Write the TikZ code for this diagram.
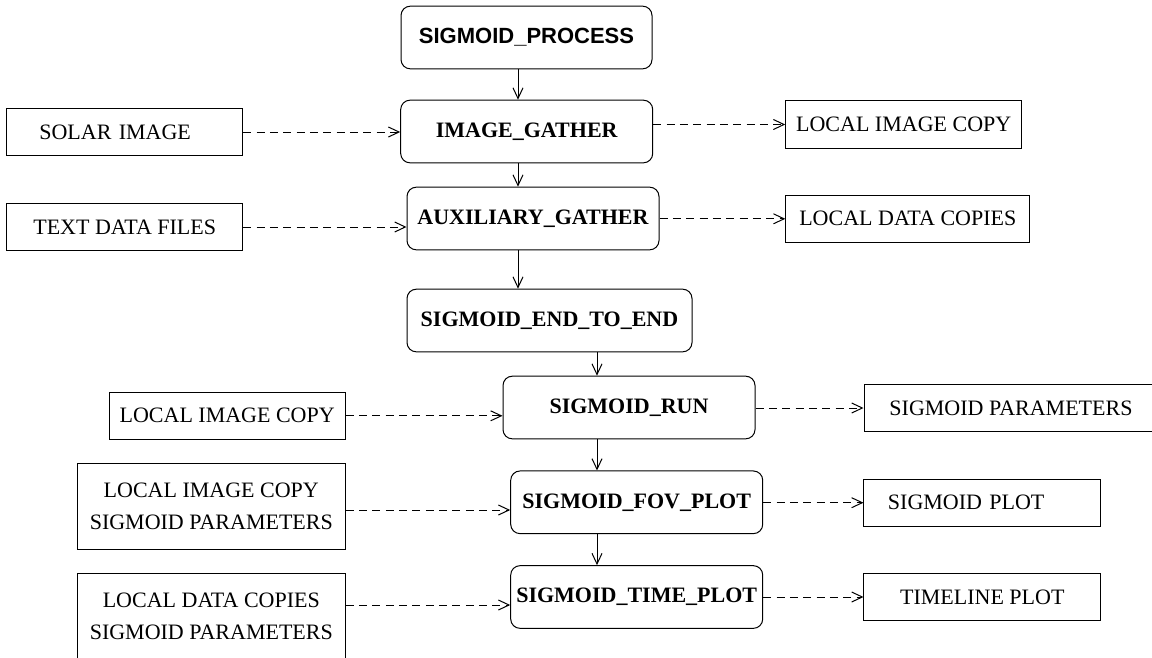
\documentclass[tikz,border=0pt]{standalone}
\usepackage{fontspec}
\setmainfont{Liberation Serif}
\newfontfamily\headfont{Liberation Sans}
\usetikzlibrary{arrows.meta}
\tikzstyle{process}=[draw, rounded corners=7pt, line width=0.75pt, minimum width=189pt, minimum height=47pt, font=\fontsize{16.5}{19}\selectfont\bfseries]
\tikzstyle{store}=[draw, line width=0.75pt, minimum width=177pt, minimum height=35.5pt, align=center, font=\fontsize{16.5}{23.7}\selectfont]
\tikzset{flow/.style={-{Straight Barb[length=8pt,width=7.5pt]}, line width=0.75pt},
  dflow/.style={flow, dash pattern=on 6pt off 4pt}}

\begin{document}
\begin{tikzpicture}[x=0.75pt, y=-0.75pt]
		\useasboundingbox (0,0) rectangle (1152,657);
		\clip (0,0) rectangle (1152,657);
		% process chain
		\node[process, minimum width=188.25pt, font=\headfont\fontsize{16.5}{19}\selectfont\bfseries] (proc) at (526.5,37.5) {SIGMOID\_PROCESS};
		\node[process] (gather) at (526.7,131.5) {IMAGE\_GATHER};
		\node[process] (aux) at (533,218.5) {AUXILIARY\_GATHER};
		\node[process, minimum width=213.75pt] (e2e) at (549.5,320.5) {SIGMOID\_END\_TO\_END};
		\node[process] (run) at (629,407.5) {SIGMOID\_RUN};
		\node[process] (fov) at (636.7,502.3) {SIGMOID\_FOV\_PLOT};
		\node[process] (time) at (636.7,597) {SIGMOID\_TIME\_PLOT};
		% data files
		\node[store, align=left, inner xsep=24.5pt, text width=128pt] (solar) at (124.7,132) {SOLAR IMAGE};
		\node[store] (textdata) at (124.7,227) {TEXT DATA FILES};
		\node[store] (localimg) at (903.7,124.5) {LOCAL IMAGE COPY};
		\node[store, minimum width=183pt] (localdata) at (907.8,218.8) {LOCAL DATA COPIES};
		\node[store] (imgcopy) at (227.2,415.8) {LOCAL IMAGE COPY};
		\node[store, minimum width=220.5pt] (params) at (1011,408) {SIGMOID PARAMETERS};
		\node[store, minimum width=201pt, minimum height=64.5pt] (fovin) at (211.3,506.3) {LOCAL IMAGE COPY\\SIGMOID PARAMETERS};
		\node[store, align=left, inner xsep=18pt, text width=141.5pt] (plot) at (982.3,502.7) {SIGMOID PLOT};
		\node[store, minimum width=201pt, minimum height=64.5pt] (timein) at (211.3,616.3) {LOCAL DATA COPIES\\SIGMOID PARAMETERS};
		\node[store, minimum width=177.5pt] (timeline) at (982.3,597) {TIMELINE PLOT};
		\coordinate (c1) at (518,0);
		\coordinate (c2) at (597,0);
		\coordinate (fovy) at (0,510);
		\coordinate (timey) at (0,605);
		% control flow
		\draw[flow] (proc.south -| c1) -- (gather.north -| c1);
		\draw[flow] (gather.south -| c1) -- (aux.north -| c1);
		\draw[flow] (aux.south -| c1) -- (e2e.north -| c1);
		\draw[flow] (e2e.south -| c2) -- (run.north -| c2);
		\draw[flow] (run.south -| c2) -- (fov.north -| c2);
		\draw[flow] (fov.south -| c2) -- (time.north -| c2);
		% inputs
		\draw[dflow] (solar) -- (solar -| gather.west);
		\draw[dflow] (textdata) -- (textdata -| aux.west);
		\draw[dflow] (imgcopy) -- (imgcopy -| run.west);
		\draw[dflow] (fovin.east |- fovy) -- (fov.west |- fovy);
		\draw[dflow] (timein.east |- timey) -- (time.west |- timey);
		% outputs
		\draw[dflow] (gather.east |- localimg) -- (localimg);
		\draw[dflow] (aux.east |- localdata) -- (localdata);
		\draw[dflow] (run.east |- params) -- (params);
		\draw[dflow] (fov.east |- plot) -- (plot);
		\draw[dflow] (time.east |- timeline) -- (timeline);
		\end{tikzpicture}
\end{document}
